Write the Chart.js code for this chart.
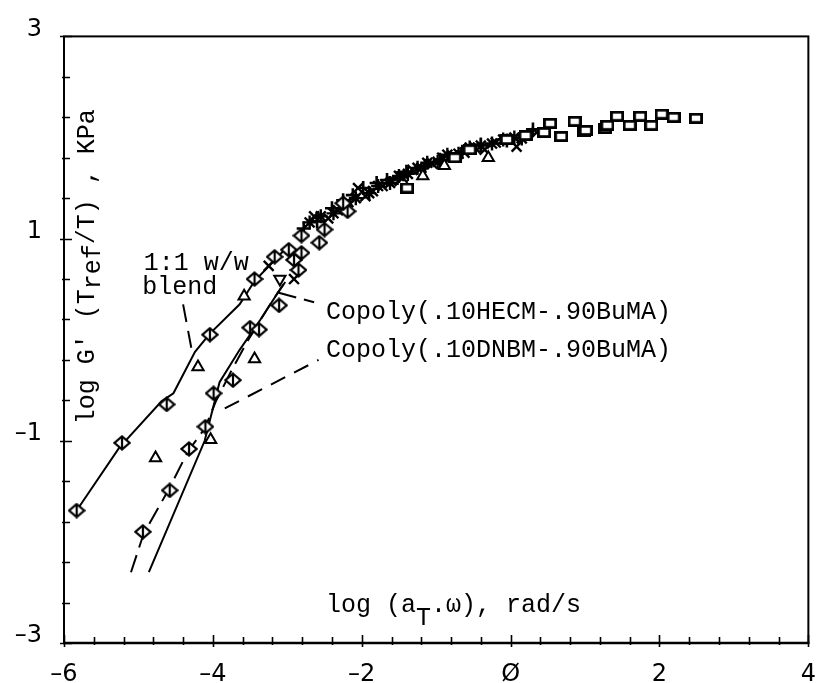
<!DOCTYPE html>
<html><head><meta charset="utf-8">
<script src="https://cdn.jsdelivr.net/npm/chart.js@4/dist/chart.umd.min.js"></script>
<style>html,body{margin:0;padding:0;background:#fff;}</style>
</head><body>
<canvas id="c" width="833" height="683"></canvas>
<script>
// ---- axis ticks ----
const xMajorTicks = [-6, -4, -2, 0, 2, 4];
const yMajorTicks = [-3, -1, 1, 3];

// ---- fitted curves ----
const blendLineX = [-5.83, -5.26, -4.69, -4.53, -4.24, -4.04, -3.64, -3.44, -3.05];
const blendLineY = [-1.69, -1.07, -0.61, -0.53, -0.12, 0.06, 0.35, 0.58, 0.88];
const dashLineX = [-5.10, -4.93, -4.60, -4.33, -4.11, -3.96, -3.76, -3.54, -3.34, -3.17, -3.00];
const dashLineY = [-2.30, -1.92, -1.49, -1.10, -0.88, -0.61, -0.32, -0.02, 0.22, 0.42, 0.60];
const solidLineX = [-4.86, -4.11, -3.91, -3.64, -3.36, -3.21, -3.05];
const solidLineY = [-2.30, -1.00, -0.42, -0.10, 0.20, 0.37, 0.55];

// ---- leader lines ----
const leadBlendX = [-4.40, -4.29];
const leadBlendY = [0.35, -0.08];
const leadHecmX = [-3.14, -2.64];
const leadHecmY = [0.47, 0.37];
const leadDnbmX = [-3.84, -2.58];
const leadDnbmY = [-0.68, -0.20];

// ---- data markers ----
const blendDiamondX = [-5.83, -5.22, -4.62, -4.04, -3.44, -3.17, -2.98, -2.81, -2.57, -2.50, -2.25];
const blendDiamondY = [-1.69, -1.02, -0.64, 0.05, 0.60, 0.82, 0.89, 1.03, 0.96, 1.09, 1.35];
const copolyDiamondX = [-4.94, -4.58, -4.32, -4.10, -3.99, -3.73, -3.50, -3.38, -3.11, -2.91, -2.85, -2.81, -2.19];
const copolyDiamondY = [-1.90, -1.49, -1.08, -0.86, -0.53, -0.40, 0.12, 0.10, 0.34, 0.79, 0.69, 0.86, 1.27];
const triUpX = [-4.77, -4.20, -4.03, -3.58, -3.44, -1.18, -0.89, -0.30];
const triUpY = [-1.17, -0.27, -0.99, 0.43, -0.19, 1.62, 1.72, 1.80];
const triDownX = [-3.10];
const triDownY = [0.60];
const crossX = [-3.25, -2.91, -2.64, -2.45, -2.32, -2.18, -2.05, -1.95, -1.85, -1.72, -1.60, -1.45, -1.32, -1.20, -1.05, -0.92, -0.78, -0.62, -0.48, -0.35, -0.20, 0.08, 0.20, 0.35];
const crossY = [0.73, 0.60, 1.22, 1.20, 1.28, 1.36, 1.50, 1.42, 1.47, 1.52, 1.57, 1.60, 1.68, 1.70, 1.74, 1.80, 1.82, 1.85, 1.90, 1.88, 1.95, 1.91, 2.02, 2.05];
const starX = [-2.70, -2.55, -2.38, -2.22, -2.08, -1.90, -1.78, -1.62, -1.50, -1.38, -1.25, -1.12, -0.98, -0.85, -0.70, -0.55, -0.40, -0.25, -0.10, 0.05, 0.15];
const starY = [1.16, 1.22, 1.25, 1.33, 1.40, 1.45, 1.52, 1.55, 1.62, 1.64, 1.70, 1.75, 1.76, 1.83, 1.84, 1.90, 1.92, 1.94, 1.98, 2.00, 1.99];
const plusX = [-2.78, -2.60, -2.40, -2.25, -2.12, -1.98, -1.80, -1.66, -1.52, -1.40, -1.15, -0.95, -0.65, -0.40, -0.05, 0.30];
const plusY = [1.10, 1.17, 1.30, 1.38, 1.43, 1.50, 1.55, 1.58, 1.60, 1.66, 1.72, 1.78, 1.86, 1.93, 1.97, 2.08];
const squareX = [-1.39, -0.75, -0.55, -0.05, 0.20, 0.45, 0.53, 0.68, 0.86, 0.99, 1.01, 1.27, 1.30, 1.43, 1.60, 1.74, 1.89, 2.03, 2.19, 2.49];
const squareY = [1.50, 1.80, 1.88, 1.98, 2.02, 2.05, 2.14, 2.01, 2.16, 2.06, 2.07, 2.09, 2.12, 2.21, 2.12, 2.21, 2.12, 2.23, 2.20, 2.19];

// ---- annotation texts (anchored in data coordinates) ----
const annotTexts = ['1:1 w/w', 'blend', 'Copoly(.10HECM-.90BuMA)', 'Copoly(.10DNBM-.90BuMA)'];
const annotX = [-4.93, -4.95, -2.48, -2.48];
const annotY = [0.69, 0.45, 0.20, -0.17];

const pts = (xs, ys) => xs.map((x, i) => ({x, y: ys[i]}));

function makeDiamondBar() {
  const c = document.createElement('canvas'); c.width = 18; c.height = 16;
  const g = c.getContext('2d');
  g.fillStyle = '#fff'; g.strokeStyle = '#000'; g.lineWidth = 2.2;
  g.beginPath(); g.moveTo(9, 1.5); g.lineTo(16.5, 8); g.lineTo(9, 14.5); g.lineTo(1.5, 8); g.closePath();
  g.fill(); g.stroke();
  g.beginPath(); g.moveTo(9, 2); g.lineTo(9, 14); g.stroke();
  return c;
}
function makeSquare() {
  const c = document.createElement('canvas'); c.width = 14; c.height = 11;
  const g = c.getContext('2d');
  g.fillStyle = '#fff'; g.strokeStyle = '#000'; g.lineWidth = 2.8;
  g.fillRect(1.4, 1.4, 11.2, 8.2); g.strokeRect(1.4, 1.4, 11.2, 8.2);
  return c;
}
const diamondImg = makeDiamondBar();
const squareImg = makeSquare();

const lineDs = (xs, ys, dash, w) => ({
  type: 'scatter', data: pts(xs, ys), showLine: true, pointRadius: 0,
  borderColor: '#000', borderWidth: w || 2, borderDash: dash || [], fill: false, order: 10, tension: 0
});
const markDs = (xs, ys, style, extra) => Object.assign({
  data: pts(xs, ys), showLine: false, pointStyle: style, pointRadius: 6.5,
  borderColor: '#000', backgroundColor: '#fff', pointBorderWidth: 2, order: 1
}, extra || {});

const isEven = v => { const r = Math.round(v); return Math.abs(v - r) < 1e-6 && xMajorTicks.includes(r); };
const isOddMajor = v => { const r = Math.round(v); return Math.abs(v - r) < 1e-6 && yMajorTicks.includes(r); };
const fmt = r => r === 0 ? 'Ø' : (r < 0 ? '–' + (-r) : String(r));

const framePlugin = {
  id: 'frame',
  afterDatasetsDraw(chart) {
    const {ctx, chartArea: a, scales: {x, y}} = chart;
    ctx.save();
    ctx.strokeStyle = '#000';
    ctx.lineWidth = 2;
    ctx.strokeRect(a.left, a.top, a.right - a.left, a.bottom - a.top);
    ctx.lineWidth = 2.6;
    ctx.beginPath(); ctx.moveTo(a.left - 1, a.bottom); ctx.lineTo(a.right + 1, a.bottom); ctx.stroke();
    ctx.lineWidth = 1.6;
    ctx.beginPath();
    x.ticks.forEach(t => {
      const p = Math.round(x.getPixelForValue(t.value)) + 0.5;
      const maj = isEven(t.value);
      ctx.moveTo(p, a.bottom + (maj ? 4 : 2)); ctx.lineTo(p, a.bottom - (maj ? 8 : 6));
    });
    y.ticks.forEach(t => {
      const p = Math.round(y.getPixelForValue(t.value)) + 0.5;
      const maj = isOddMajor(t.value);
      ctx.moveTo(a.left - (maj ? 4 : 2), p); ctx.lineTo(a.left + (maj ? 8 : 6), p);
    });
    ctx.stroke();

    // annotations
    ctx.fillStyle = '#000';
    ctx.font = '25px "Liberation Mono"';
    ctx.textBaseline = 'alphabetic';
    ctx.textAlign = 'left';
    annotTexts.forEach((t, i) => ctx.fillText(t, x.getPixelForValue(annotX[i]), y.getPixelForValue(annotY[i])));

    // x axis title (inside plot)
    let px = x.getPixelForValue(-2.48), py = y.getPixelForValue(-2.69);
    const parts = [['log (a', 0], ['T', 13], ['.ω), rad/s', 0]];
    parts.forEach(([s, off]) => { ctx.fillText(s, px, py + off); px += ctx.measureText(s).width; });

    // y axis title (rotated, inside plot)
    ctx.translate(x.getPixelForValue(-5.603), y.getPixelForValue(-0.837));
    ctx.rotate(-Math.PI / 2);
    let qx = 0;
    const yparts = [["log G' (T", 0], ['ref', 6], ['/T) , KPa', 0]];
    yparts.forEach(([s, off]) => { ctx.fillText(s, qx, off); qx += ctx.measureText(s).width; });
    ctx.restore();
  }
};

const tickFont = {family: '"DejaVu Sans", sans-serif', size: 24};
Chart.defaults.color = '#000';

new Chart(document.getElementById('c'), {
  type: 'scatter',
  data: {
    datasets: [
      markDs(blendDiamondX, blendDiamondY, diamondImg),
      markDs(copolyDiamondX, copolyDiamondY, diamondImg),
      markDs(squareX, squareY, squareImg),
      markDs(triUpX, triUpY, 'triangle', {pointRadius: 6.5}),
      markDs(triDownX, triDownY, 'triangle', {pointRotation: 180, pointRadius: 6.5}),
      markDs(crossX, crossY, 'crossRot', {pointRadius: 7, pointBorderWidth: 2.4}),
      markDs(starX, starY, 'star', {pointRadius: 7, pointBorderWidth: 2.4}),
      markDs(plusX, plusY, 'cross', {pointRadius: 7, pointBorderWidth: 2.6}),
      lineDs(blendLineX, blendLineY, [], 2),
      lineDs(dashLineX, dashLineY, [18, 8], 2),
      lineDs(solidLineX, solidLineY, [], 2),
      lineDs(leadBlendX, leadBlendY, [18, 9], 2),
      lineDs(leadHecmX, leadHecmY, [20, 8], 2),
      lineDs(leadDnbmX, leadDnbmY, [16, 10], 2)
    ]
  },
  options: {
    responsive: false,
    devicePixelRatio: 1,
    animation: false,
    events: [],
    layout: {padding: {left: 0, right: 14, top: 32, bottom: 0}},
    plugins: {legend: {display: false}, tooltip: {enabled: false}},
    scales: {
      x: {
        type: 'linear', min: -6, max: 4, position: 'bottom',
        grid: {display: false, drawTicks: false}, border: {display: false},
        ticks: {
          stepSize: 0.4, autoSkip: false, maxRotation: 0, padding: 17,
          color: '#000', font: tickFont,
          callback: v => isEven(v) ? fmt(Math.round(v)) : ''
        },
        afterFit: s => { s.height = 40; }
      },
      y: {
        type: 'linear', min: -3, max: 3, position: 'left',
        grid: {display: false, drawTicks: false}, border: {display: false},
        ticks: {
          stepSize: 0.4, autoSkip: false, padding: 22, labelOffset: -7,
          color: '#000', font: tickFont,
          callback: v => isOddMajor(v) ? fmt(Math.round(v)) : ''
        },
        afterFit: s => { s.width = 64; }
      }
    }
  },
  plugins: [framePlugin]
});
</script>
</body></html>
